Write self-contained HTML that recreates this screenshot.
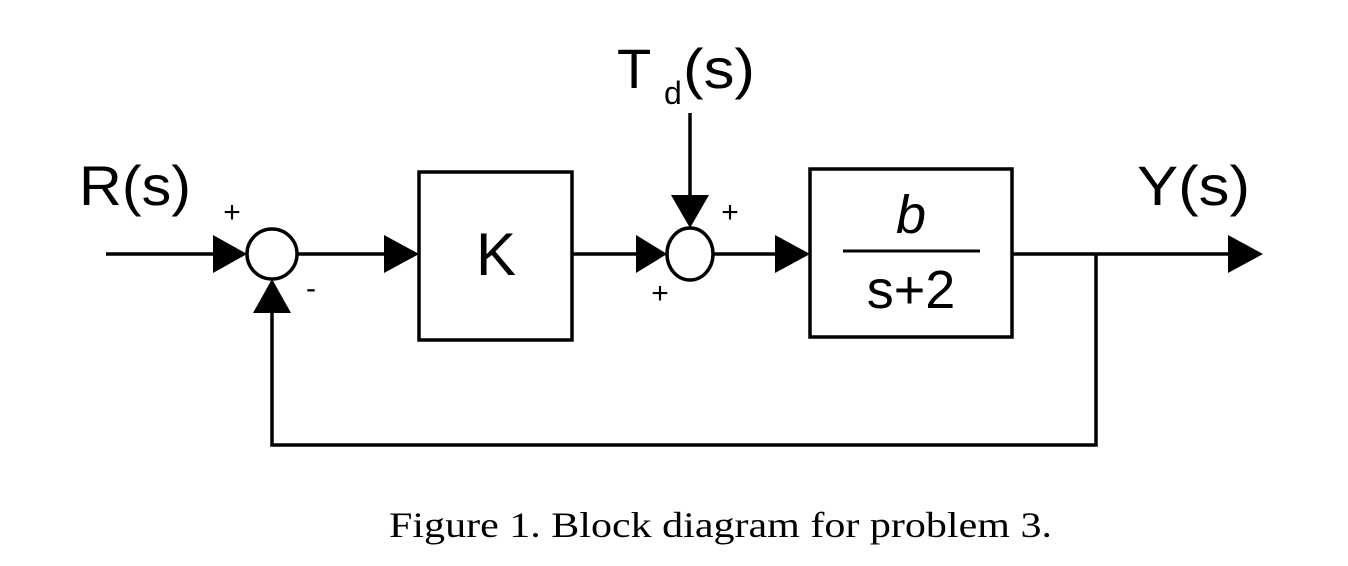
<!DOCTYPE html>
<html><head><meta charset="utf-8"><style>
html,body{margin:0;padding:0;background:#fff;}
svg{display:block;}
.sans{font-family:"Liberation Sans",Arial,sans-serif;}
.serif{font-family:"Liberation Serif","Times New Roman",serif;}
</style></head><body>
<svg width="1348" height="566" viewBox="0 0 1348 566" xmlns="http://www.w3.org/2000/svg">
<g stroke="#000" stroke-width="3.5" fill="none">
  <line x1="106" y1="254" x2="215" y2="254"/>
  <circle cx="272" cy="254" r="25"/>
  <line x1="297" y1="254" x2="386" y2="254"/>
  <rect x="419" y="172" width="153" height="168"/>
  <line x1="572" y1="254" x2="638" y2="254"/>
  <ellipse cx="690" cy="254" rx="23" ry="26"/>
  <line x1="713" y1="254" x2="777" y2="254"/>
  <line x1="690" y1="113" x2="690" y2="196"/>
  <rect x="810" y="169" width="202" height="168"/>
  <line x1="1012" y1="254" x2="1230" y2="254"/>
  <polyline points="1096,254 1096,445 272,445 272,310"/>
</g>
<line x1="843" y1="251" x2="980" y2="251" stroke="#000" stroke-width="3"/>
<g fill="#000">
  <polygon points="213,235 247,254 213,273"/>
  <polygon points="384,235 419,254 384,273"/>
  <polygon points="253,313 272,279 291,313"/>
  <polygon points="636,235 667,254 636,273"/>
  <polygon points="671,195 690,228 709,195"/>
  <polygon points="775,235 810,254 775,273"/>
  <polygon points="1228,235 1263,254 1228,273"/>
</g>
<g class="sans" fill="#000">
  <text x="79" y="205" font-size="56" textLength="112" lengthAdjust="spacingAndGlyphs">R(s)</text>
  <text x="1137" y="205" font-size="56" textLength="113" lengthAdjust="spacingAndGlyphs">Y(s)</text>
  <text x="617" y="88" font-size="56">T</text>
  <text x="664" y="104" font-size="32">d</text>
  <text x="683" y="88" font-size="56" textLength="72" lengthAdjust="spacingAndGlyphs">(s)</text>
  <text x="496" y="275" font-size="60" text-anchor="middle">K</text>
  <text x="911" y="233" font-size="54" font-style="italic" text-anchor="middle">b</text>
  <text x="911" y="308" font-size="54" text-anchor="middle">s+2</text>
  <text x="232" y="222" font-size="30" text-anchor="middle">+</text>
  <text x="311" y="298" font-size="30" text-anchor="middle">-</text>
  <text x="730" y="222" font-size="30" text-anchor="middle">+</text>
  <text x="660" y="303" font-size="30" text-anchor="middle">+</text>
</g>
<text class="serif" x="389" y="537" font-size="36" textLength="663" lengthAdjust="spacingAndGlyphs">Figure 1. Block diagram for problem 3.</text>
</svg>
</body></html>
